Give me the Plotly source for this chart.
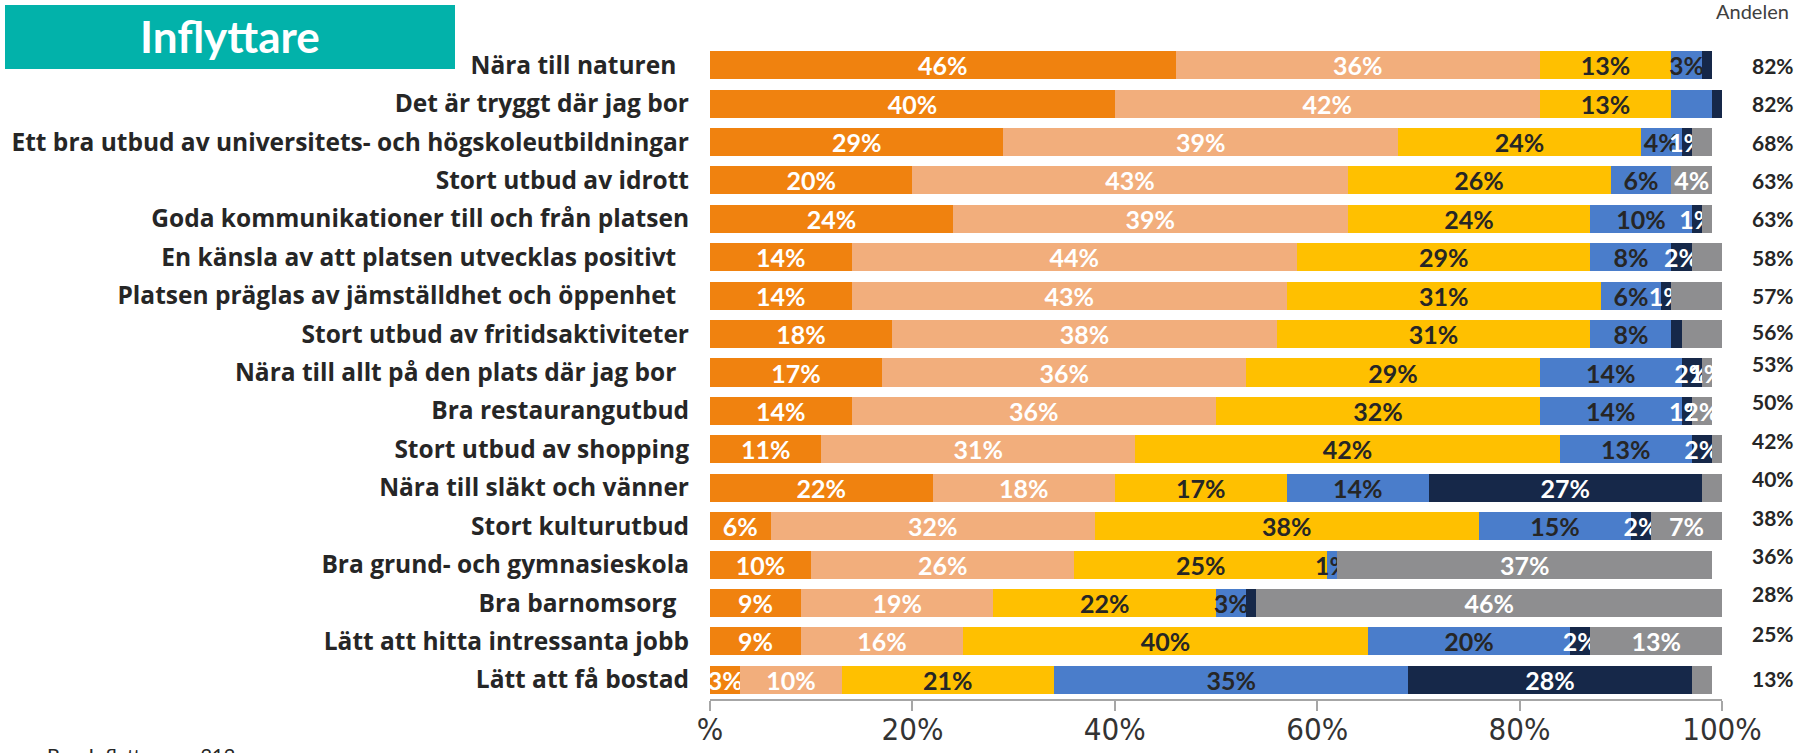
import plotly.graph_objects as go

# ---------------- data ----------------
categories = [
    "Nära till naturen\u00a0\u00a0",
    "Det är tryggt där jag bor",
    "Ett bra utbud av universitets- och högskoleutbildningar",
    "Stort utbud av idrott",
    "Goda kommunikationer till och från platsen",
    "En känsla av att platsen utvecklas positivt\u00a0\u00a0",
    "Platsen präglas av jämställdhet och öppenhet\u00a0\u00a0",
    "Stort utbud av fritidsaktiviteter",
    "Nära till allt på den plats där jag bor\u00a0\u00a0",
    "Bra restaurangutbud",
    "Stort utbud av shopping",
    "Nära till släkt och vänner",
    "Stort kulturutbud",
    "Bra grund- och gymnasieskola",
    "Bra barnomsorg\u00a0\u00a0",
    "Lätt att hitta intressanta jobb",
    "Lätt att få bostad",
]

series_names = ["Mycket viktigt", "Ganska viktigt", "Varken eller",
                "Ganska oviktigt", "Inte alls viktigt", "Vet ej"]

v_mycket = [46, 40, 29, 20, 24, 14, 14, 18, 17, 14, 11, 22, 6, 10, 9, 9, 3]
v_ganska = [36, 42, 39, 43, 39, 44, 43, 38, 36, 36, 31, 18, 32, 26, 19, 16, 10]
v_varken = [13, 13, 24, 26, 24, 29, 31, 31, 29, 32, 42, 17, 38, 25, 22, 40, 21]
v_oviktigt = [3, 4, 4, 6, 10, 8, 6, 8, 14, 14, 13, 14, 15, 1, 3, 20, 35]
v_inte = [1, 1, 1, 0, 1, 2, 1, 1, 2, 1, 2, 27, 2, 0, 1, 2, 28]
v_vetej = [0, 0, 2, 4, 1, 3, 5, 4, 1, 2, 1, 2, 7, 37, 46, 13, 2]

andelen = [82, 82, 68, 63, 63, 58, 57, 56, 53, 50, 42, 40, 38, 36, 28, 25, 13]

x_tickvals = [0, 20, 40, 60, 80, 100]
x_ticktext = ["%", "20%", "40%", "60%", "80%", "100%"]

# labels that are not printed in the reference (row indices per series)
hidden_labels = [[], [], [], [1], [0, 1, 7, 14], [2, 4, 5, 6, 7, 10, 11, 16]]

# ---------------- style ----------------
W, H = 1796, 753
ML, MR, MT, MB = 710, 74, 46, 54
colors = ["#F0820F", "#F2AE7C", "#FFC000", "#4A7DCB", "#162849", "#8E8E90"]
text_colors = ["white", "white", "#262626", "#262626", "white", "white"]
andel_yshift = [0, 0, 0, 0, 0, 0, 0, 3, 9, 9, 9, 9, 9, 9, 9, 8, 1]
FONT = "Lato"
LABEL_FONT = "Open Sans"
TICK_FONT = "Liberation Sans Narrow, Arial Narrow, DejaVu Sans Condensed, sans-serif"

all_values = [v_mycket, v_ganska, v_varken, v_oviktigt, v_inte, v_vetej]

fig = go.Figure()
for i, (name, vals) in enumerate(zip(series_names, all_values)):
    texts = []
    for r, v in enumerate(vals):
        if v == 0 or r in hidden_labels[i]:
            texts.append("")
        else:
            texts.append(f"{v}%")
    fig.add_trace(go.Bar(
        y=categories, x=vals, name=name, orientation="h",
        marker=dict(color=colors[i], line=dict(width=0)),
        text=texts, textposition="inside", insidetextanchor="middle",
        textangle=0, constraintext="none",
        textfont=dict(family=FONT, size=25, color=text_colors[i], weight=700),
        hoverinfo="x+y+name",
    ))

fig.update_layout(
    barmode="stack", bargap=0.27,
    width=W, height=H,
    margin=dict(l=ML, r=MR, t=MT, b=MB, autoexpand=False),
    plot_bgcolor="white", paper_bgcolor="white",
    showlegend=False,
    uniformtext=dict(minsize=25, mode="show"),
)

fig.update_xaxes(
    automargin=False,
    range=[0, 100], tickvals=x_tickvals, ticktext=x_ticktext,
    showgrid=False, zeroline=False,
    showline=True, linecolor="#A6A6A6", linewidth=2,
    ticks="outside", ticklen=10, tickwidth=2, tickcolor="#A6A6A6",
    tickfont=dict(family=TICK_FONT, size=31, color="#333333"),
    ticklabelstandoff=-8,
)
fig.update_yaxes(
    automargin=False,
    autorange="reversed", showgrid=False, zeroline=False, showline=False,
    tickfont=dict(family=LABEL_FONT, size=24.5, color="#262626", weight=700),
    ticklabelstandoff=20,
)

# right-hand column "Andelen"
for r, (cat, a) in enumerate(zip(categories, andelen)):
    fig.add_annotation(
        x=1, xref="paper", y=cat, yref="y", xanchor="center", xshift=51,
        yshift=andel_yshift[r], text=f"{a}%", showarrow=False,
        font=dict(family=FONT, size=21, color="#262626", weight=700),
    )

pw, ph = W - ML - MR, H - MT - MB
def px_x(x):
    return (x - ML) / pw
def px_y(y):
    return (H - MB - y) / ph

fig.add_annotation(
    x=px_x(1752), xref="paper", y=px_y(-3), yref="paper", xanchor="center",
    yanchor="top", text="Andelen", showarrow=False,
    font=dict(family=FONT, size=20, color="#404040"),
)

# teal title box
fig.add_shape(type="rect", xref="paper", yref="paper",
              x0=px_x(5), x1=px_x(455), y0=px_y(69), y1=px_y(5),
              fillcolor="#02B2AA", line=dict(width=0), layer="above")
fig.add_annotation(
    x=px_x(230), xref="paper", y=px_y(36), yref="paper",
    xanchor="center", yanchor="middle", text="Inflyttare", showarrow=False,
    font=dict(family=FONT, size=44, color="white", weight=700),
)

# base note (mostly cut off at bottom)
fig.add_annotation(
    x=px_x(45), xref="paper", y=px_y(741), yref="paper",
    xanchor="left", yanchor="top", text="Bas: Inflyttare, n=212", showarrow=False,
    font=dict(family=FONT, size=20, color="#262626"),
)

fig.write_html(
    "out.html",
    config={"displayModeBar": False},
    post_script="document.body.style.margin='0';document.body.style.overflow='hidden';",
)
